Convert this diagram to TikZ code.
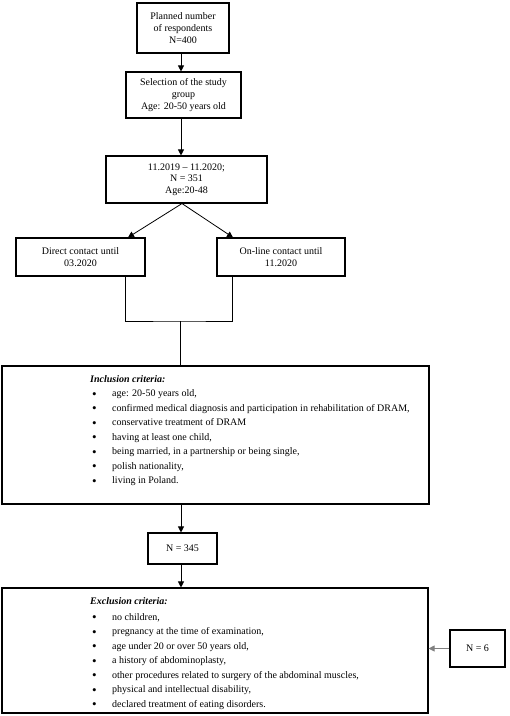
\documentclass[tikz,border=0pt]{standalone}
\usepackage{fontspec}
\setmainfont{Liberation Serif}
\usetikzlibrary{arrows.meta,calc}
\newcommand{\bul}{\hspace*{2bp}\makebox[20bp][l]{\fontsize{13bp}{13bp}\selectfont\raisebox{-1.6bp}{•}}}
\begin{document}
\begin{tikzpicture}[x=1bp,y=-1bp,
  box/.style={draw, line width=1.1bp, inner sep=0pt, align=center, font=\fontsize{10bp}{11.7bp}\selectfont},
  listtext/.style={inner sep=0pt, align=left, anchor=north west, font=\fontsize{10bp}{14.5bp}\selectfont},
  conn/.style={line width=0.8bp},
  arr/.style={conn, -{Triangle[length=6bp,width=6bp]}}]
\useasboundingbox (0,0) rectangle (510,716);
\fill[white] (0,0) rectangle (510,716);
\node[box, minimum width=92bp, minimum height=50bp] (b1) at (183,28) {Planned number\\of respondents\\N=400};
\node[box, minimum width=115bp, minimum height=46bp] (b2) at (183.5,95) {Selection of the study\\group\\Age: 20-50 years old};
\node[box, minimum width=161bp, minimum height=47bp] (b3) at (186.5,179.5) {11.2019 -- 11.2020;\\N = 351\\Age:20-48};
\node[box, minimum width=129bp, minimum height=38bp] (dir) at (80.5,257) {Direct contact until\\03.2020};
\node[box, minimum width=128bp, minimum height=38bp] (onl) at (281,257) {On-line contact until\\11.2020};
\node[box, minimum width=427bp, minimum height=138bp] (inc) at (215.5,435) {};
\node[listtext] (inctxt) at (90,375) {\textbf{\textit{Inclusion criteria:}}\\
\bul age: 20-50 years old,\\
\bul confirmed medical diagnosis and participation in rehabilitation of DRAM,\\
\bul conservative treatment of DRAM\\
\bul having at least one child,\\
\bul being married, in a partnership or being single,\\
\bul polish nationality,\\
\bul living in Poland.};
\node[box, minimum width=69bp, minimum height=31bp] (n345) at (182.5,548.5) {N = 345};
\node[box, minimum width=426bp, minimum height=125bp] (exc) at (215,650.5) {};
\node[listtext] (exctxt) at (90,597) {\textbf{\textit{Exclusion criteria:}}\\[1.5bp]
\bul no children,\\
\bul pregnancy at the time of examination,\\
\bul age under 20 or over 50 years old,\\
\bul a history of abdominoplasty,\\
\bul other procedures related to surgery of the abdominal muscles,\\
\bul physical and intellectual disability,\\
\bul declared treatment of eating disorders.};
\node[box, minimum width=55bp, minimum height=37bp] (n6) at (477.5,648.5) {N = 6};
\coordinate (cx) at (181,0);
\coordinate (merge) at (180,321);
\draw[arr] (b1.south -| cx) -- (b2.north -| cx);
\draw[arr] (b2.south -| cx) -- (b3.north -| cx);
\draw[arr] ($(b3.south)+(-4.5,0)$) -- ($(dir.north)+(47.5,0)$);
\draw[arr] ($(b3.south)+(-4.5,0)$) -- ($(onl.north)+(-48,0)$);
\draw[conn] ($(dir.south)+(44.5,0)$) |- (merge) -| ($(onl.south)+(-49,0)$);
\draw[conn] (merge) -- (inc.north -| merge);
\draw[arr] (inc.south -| cx) -- (n345.north -| cx);
\draw[arr] (n345.south -| cx) -- (exc.north -| cx);
\draw[arr, gray] (n6.west) -- (exc.east |- n6.west);
\end{tikzpicture}
\end{document}
